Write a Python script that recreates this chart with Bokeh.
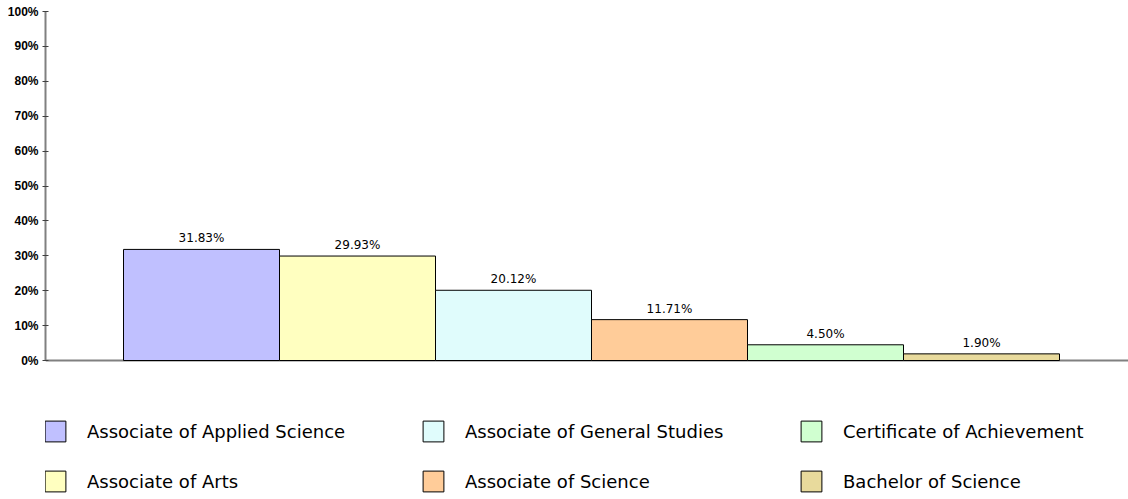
from bokeh.plotting import figure
from bokeh.models import (Range1d, FixedTicker, PrintfTickFormatter, Legend,
                          LegendItem, Span, ColumnDataSource)
from bokeh.core.properties import value
from bokeh.embed import file_html
from bokeh.resources import INLINE

categories = ["Associate of Applied Science", "Associate of Arts",
              "Associate of General Studies", "Associate of Science",
              "Certificate of Achievement", "Bachelor of Science"]
shares = [31.83, 29.93, 20.12, 11.71, 4.50, 1.90]
colors = ["#C0C0FF", "#FFFFC0", "#E0FCFC", "#FFCC99", "#D0FFD0", "#E8DA9C"]
y_ticks = [0, 10, 20, 30, 40, 50, 60, 70, 80, 90, 100]

W, H = 1128, 499
left = 45
bar_px = 156
frame_w = W - left
zero_px = 360
top_px = 11
ppu = (zero_px - top_px) / 100.0

src = ColumnDataSource(dict(
    x=[i + 0.5 for i in range(len(categories))],
    top=shares,
    color=colors,
    label=["%.2f%%" % s for s in shares],
    cat=categories,
))

p = figure(width=W, height=H, output_backend="svg", toolbar_location=None,
           x_axis_location=None,
           x_range=Range1d(-0.5, -0.5 + frame_w / bar_px),
           y_range=Range1d(-(H - zero_px) / ppu, 100 + top_px / ppu),
           min_border_left=left, min_border_right=0, min_border_top=0,
           min_border_bottom=0)
p.outline_line_color = None
p.xgrid.visible = False
p.ygrid.visible = False
p.background_fill_color = "white"
p.border_fill_color = "white"

ax = p.yaxis[0]
ax.ticker = FixedTicker(ticks=y_ticks)
ax.formatter = PrintfTickFormatter(format="%d%%")
ax.bounds = (0, 100)
ax.axis_line_color = "#808080"
ax.axis_line_width = 2
ax.major_tick_line_color = "#404040"
ax.major_tick_in = 3
ax.major_tick_out = 3
ax.minor_tick_line_color = None
ax.major_label_text_font = "Liberation Sans"
ax.major_label_text_font_style = "bold"
ax.major_label_text_font_size = "12px"
ax.major_label_text_color = "#000000"
ax.major_label_standoff = 4

base = Span(location=0, dimension="width", line_color="#808080", line_width=2,
            level="underlay")
p.add_layout(base)

bars = p.vbar(x="x", top="top", bottom=0, width=1, source=src,
              fill_color="color", line_color="#000000", line_width=1)

p.text(x="x", y="top", text="label", source=src, text_align="center",
       text_baseline="bottom", y_offset=-4, text_font_size="12px",
       text_font=value("DejaVu Sans"), text_color="#000000")

col_x = [-3, 375, 753]
for c in range(3):
    items = [LegendItem(label=categories[2 * c + r], renderers=[bars],
                        index=2 * c + r) for r in range(2)]
    leg = Legend(items=items, location=(col_x[c], 5), orientation="vertical",
                 glyph_width=26, glyph_height=26, label_standoff=19,
                 spacing=24, padding=0, margin=0,
                 border_line_color=None, background_fill_alpha=0,
                 label_text_font="DejaVu Sans", label_text_font_size="18px",
                 label_text_baseline="top",
                 label_text_color="#000000")
    p.add_layout(leg)

open("out.html", "w").write(file_html(p, INLINE))
